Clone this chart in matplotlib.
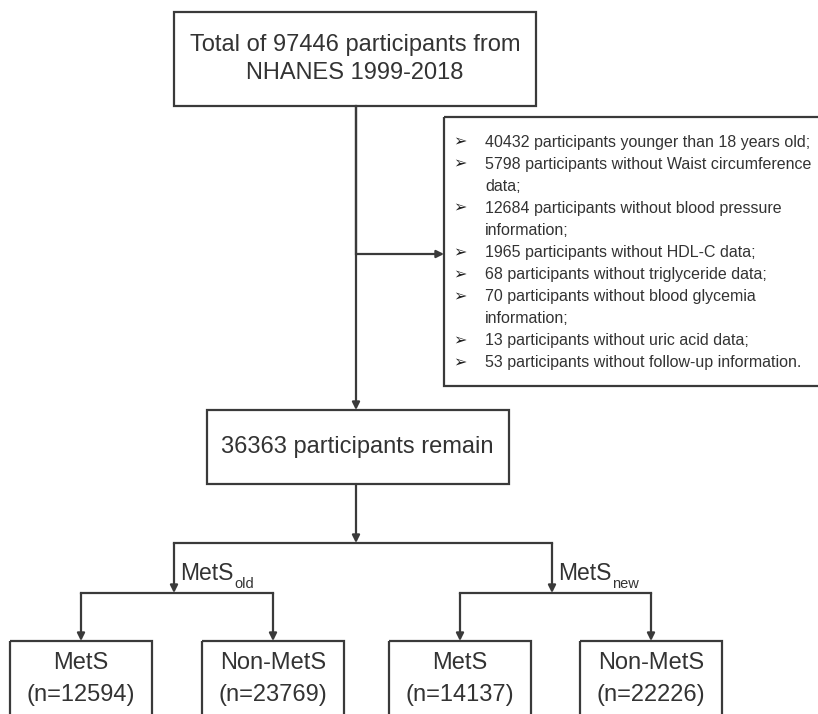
import matplotlib.pyplot as plt
from matplotlib.patches import Rectangle

# Datos del diagrama de flujo
top_lines = ["Total of 97446 participants from", "NHANES 1999-2018"]
excl_counts = [40432, 5798, 12684, 1965, 68, 70, 13, 53]
excl_reasons = ["participants younger than 18 years old;",
                "participants without Waist circumference\ndata;",
                "participants without blood pressure\ninformation;",
                "participants without HDL-C data;",
                "participants without triglyceride data;",
                "participants without blood glycemia\ninformation;",
                "participants without uric acid data;",
                "participants without follow-up information."]
remain = 36363
groups = ["old", "new"]
mets_n = [12594, 14137]
nonmets_n = [23769, 22226]

W, H = 818, 714
fig = plt.figure(figsize=(W/100, H/100), dpi=100)
ax = fig.add_axes([0, 0, 1, 1])
ax.set_xlim(0, W); ax.set_ylim(H, 0); ax.axis('off')

fam = 'Liberation Sans'
lc = '#3a3a3a'   # color de lineas
tc = '#333333'   # color de texto
lw = 1.6
big = 17

def box(x0, y0, x1, y1):
    ax.add_patch(Rectangle((x0, y0), x1-x0, y1-y0, fill=False, ec=lc, lw=lw))

def line(x0, y0, x1, y1):
    ax.plot([x0, x1], [y0, y1], color=lc, lw=lw, solid_capstyle='projecting')

def arrow(x0, y0, x1, y1):
    ax.annotate('', xy=(x1, y1), xytext=(x0, y0),
                arrowprops=dict(arrowstyle='-|>', color=lc, lw=lw,
                                mutation_scale=11, shrinkA=0, shrinkB=0))

# Caja superior
box(174, 12, 536, 106)
for i, s in enumerate(top_lines):
    ax.text(355, 45 + 28*i, s, ha='center', va='center', fontsize=big,
            family=fam, color=tc)

# Caja de exclusiones
box(444, 117, 830, 386)
k = 0
for n, r in zip(excl_counts, excl_reasons):
    parts = r.split('\n')
    ax.text(460, 142 + 22.1*k, '\u27a2', ha='center', va='center', fontsize=11.5,
            family=['DejaVu Sans'], color='#222222')
    for j, p in enumerate(parts):
        s = f"{n} {p}" if j == 0 else p
        ax.text(485, 142 + 22.1*k, s, ha='left', va='center', fontsize=11.5,
                family=fam, color=tc)
        k += 1

# Flechas principales
line(356, 106, 356, 254)
arrow(356, 254, 444, 254)
arrow(356, 106, 356, 410)

# Caja intermedia
box(207, 410, 509, 484)
ax.text(357, 447, f"{remain} participants remain", ha='center', va='center',
        fontsize=big, family=fam, color=tc)

# Ramas
arrow(356, 484, 356, 543)
line(174, 543, 552, 543)
branch_x = [174, 552]
leaf_x = [[81, 273], [460, 651]]
fig.canvas.draw()
rend = fig.canvas.get_renderer()
for g, bx, lx, m, nm in zip(groups, branch_x, leaf_x, mets_n, nonmets_n):
    arrow(bx, 543, bx, 593)
    line(lx[0], 593, lx[1], 593)
    t = ax.text(bx + 6, 580, "MetS", ha='left', va='baseline', fontsize=16.5,
                family=fam, color=tc)
    bb = t.get_window_extent(rend)
    xe = ax.transData.inverted().transform((bb.x1, bb.y0))[0]
    ax.text(xe + 1, 588, g, ha='left', va='baseline', fontsize=10.5,
            family=fam, color=tc)
    for x, lab, v in zip(lx, ["MetS", "Non-MetS"], [m, nm]):
        arrow(x, 593, x, 641)
        box(x - 71, 641, x + 71, 740)
        ax.text(x, 663, lab, ha='center', va='center', fontsize=big,
                family=fam, color=tc)
        ax.text(x, 695, f"(n={v})", ha='center', va='center', fontsize=big,
                family=fam, color=tc)

fig.savefig('out.png', dpi=100, facecolor='white')
